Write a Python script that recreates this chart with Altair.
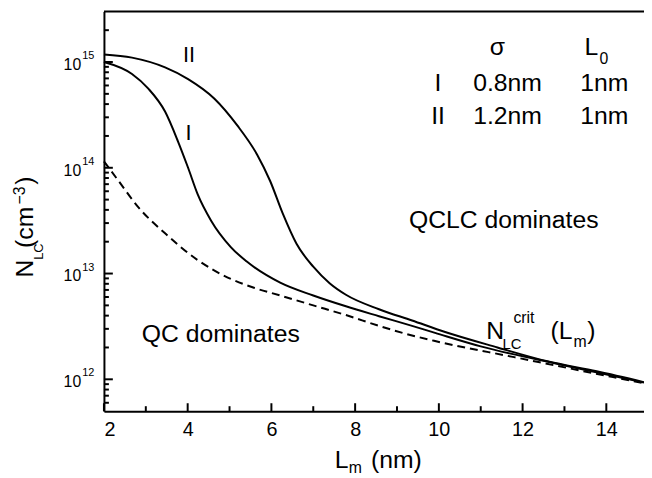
import altair as alt
import pandas as pd

FONT = "Liberation Sans, Arial, Helvetica, sans-serif"

L_I = [2.0, 2.67, 3.06, 3.46, 3.77, 4.01, 4.24, 4.56, 5.03, 5.42, 6.21, 7.0, 7.78, 8.57, 9.36, 9.91, 11.0, 12.98, 14.9]
N_I = [1.0e15, 7.7e14, 5.6e14, 3.4e14, 1.77e14, 1.0e14, 5.6e13, 3.16e13, 1.78e13, 1.29e13, 8.2e12, 6.2e12,
       4.9e12, 3.95e12, 3.2e12, 2.75e12, 2.05e12, 1.36e12, 9.3e11]
L_II = [2.0, 2.67, 3.46, 4.01, 4.64, 5.19, 5.66, 5.97, 6.27, 6.6, 7.0, 7.39, 7.78, 8.57, 9.36, 10.15, 11.4, 12.59, 13.77, 14.9]
N_II = [1.18e15, 1.10e15, 8.9e14, 6.9e14, 4.5e14, 2.5e14, 1.33e14, 7.5e13, 3.7e13, 1.91e13, 1.16e13, 8.1e12,
        6.3e12, 4.6e12, 3.6e12, 2.8e12, 2.0e12, 1.48e12, 1.19e12, 9.4e11]
L_crit = [2.0, 2.35, 2.83, 3.46, 4.24, 5.03, 5.6, 6.21, 7.0, 7.78, 8.57, 9.2, 9.91, 11.8, 14.16, 14.9]
N_crit = [1.15e14, 7.5e13, 4.2e13, 2.4e13, 1.34e13, 8.9e12, 7.3e12, 6.2e12, 5.0e12, 4.05e12, 3.2e12, 2.7e12,
          2.3e12, 1.62e12, 1.05e12, 9.2e11]

x_major = [2, 4, 6, 8, 10, 12, 14]
x_minor = [3, 5, 7, 9, 11, 13]
y_major = [1e12, 1e13, 1e14, 1e15]
y_exponents = ["12", "13", "14", "15"]
y_minor = ([6e11, 7e11, 8e11, 9e11]
           + [2e12, 3e12, 4e12, 5e12, 6e12, 7e12, 8e12, 9e12]
           + [2e13, 3e13, 4e13, 5e13, 6e13, 7e13, 8e13, 9e13]
           + [2e14, 3e14, 4e14, 5e14, 6e14, 7e14, 8e14, 9e14]
           + [2e15])

curve_labels = ["II", "I"]
curve_label_x = [4.03, 4.02]
curve_label_y = [9.9e14, 1.85e14]

big_center_text = ["QC dominates", "QCLC dominates", "σ", "I", "II", "0.8nm", "1.2nm", "1nm", "1nm"]
big_center_x = [4.79, 11.55, 11.40, 9.98, 9.98, 11.64, 11.64, 13.95, 13.95]
big_center_y = [2.23e12, 2.7e13, 1.175e15, 5.27e14, 2.62e14, 5.27e14, 2.62e14, 5.27e14, 2.62e14]

big_left_text = ["L", "N", "(L", ")"]
big_left_x = [13.476, 11.13, 12.665, 13.545]
big_left_y = [1.175e15, 2.39e12, 2.39e12, 2.39e12]

small_left_text = ["0", "LC", "crit", "m"]
small_left_x = [13.84, 11.52, 11.78, 13.216]
small_left_y = [9.48e14, 1.93e12, 3.4e12, 2.0e12]
small_left_size = [16, 15, 16, 16]

W, H = 546, 404
X_LO, X_HI = 2, 14.9
Y_LO, Y_HI = 5e11, 3e15
xs = alt.Scale(domain=[X_LO, X_HI], nice=False, zero=False)
ys = alt.Scale(type="log", domain=[Y_LO, Y_HI], nice=False)
x_axis = alt.Axis(values=x_major, format="d", title=None, grid=False, ticks=False,
                  labelFontSize=20, labelFont=FONT, labelColor="black", labelPadding=9,
                  domain=True, domainColor="black", domainWidth=2)
y_axis = alt.Axis(title=None, grid=False, labels=False, ticks=False,
                  domain=True, domainColor="black", domainWidth=2)


def X(f):
    return alt.X(f, type="quantitative", scale=xs, axis=x_axis)


def Y(f):
    return alt.Y(f, type="quantitative", scale=ys, axis=y_axis)


# inward tick marks (length in px: x 8/5, y 9/5)
px_per_decade = H / 3.778
px_per_nm = W / (X_HI - X_LO)
xt_rows = []
for v in x_major:
    xt_rows.append({"tv": float(v), "a": Y_LO, "b": Y_LO * 10 ** (8 / px_per_decade)})
for v in x_minor:
    xt_rows.append({"tv": float(v), "a": Y_LO, "b": Y_LO * 10 ** (5 / px_per_decade)})
yt_rows = []
for v in y_major:
    yt_rows.append({"tv": v, "a": float(X_LO), "b": X_LO + 9 / px_per_nm})
for v in y_minor:
    yt_rows.append({"tv": v, "a": float(X_LO), "b": X_LO + 5 / px_per_nm})

curves = pd.concat([
    pd.DataFrame({"L": L_I, "N": N_I, "s": "I"}),
    pd.DataFrame({"L": L_II, "N": N_II, "s": "II"}),
], ignore_index=True)
crit = pd.DataFrame({"L": L_crit, "N": N_crit})

solid = alt.Chart(curves).mark_line(color="black", strokeWidth=2, interpolate="monotone").encode(
    x=X("L"), y=Y("N"), detail="s:N")
dashed = alt.Chart(crit).mark_line(color="black", strokeWidth=2, strokeDash=[8, 5], interpolate="monotone").encode(
    x=X("L"), y=Y("N"))
xticks = alt.Chart(pd.DataFrame(xt_rows)).mark_rule(color="black", strokeWidth=2).encode(
    x=X("tv"), y=Y("a"), y2=alt.Y2("b"))
yticks = alt.Chart(pd.DataFrame(yt_rows)).mark_rule(color="black", strokeWidth=2).encode(
    y=Y("tv"), x=X("a"), x2=alt.X2("b"))

top = alt.Chart(pd.DataFrame({"a": [0]})).mark_rule(color="black", strokeWidth=2).encode(
    x=alt.value(0), x2=alt.value(W + 2), y=alt.value(0))

ylab = pd.DataFrame({"v": y_major, "e": y_exponents})
ylab10 = alt.Chart(ylab).mark_text(font=FONT, fontSize=16, align="right", baseline="alphabetic", dy=8,
                                   color="black").encode(y=Y("v"), x=alt.value(-23), text=alt.value("10"))
ylabE = alt.Chart(ylab).mark_text(font=FONT, fontSize=11, align="left", baseline="alphabetic", dy=-3,
                                  color="black").encode(y=Y("v"), x=alt.value(-22), text="e:N")

t1 = alt.Chart(pd.DataFrame({"x": curve_label_x, "y": curve_label_y, "t": curve_labels})).mark_text(
    font=FONT, fontSize=22, align="center", baseline="alphabetic", color="black").encode(
    x=X("x"), y=Y("y"), text="t:N")
t2 = alt.Chart(pd.DataFrame({"x": big_center_x, "y": big_center_y, "t": big_center_text})).mark_text(
    font=FONT, fontSize=25, align="center", baseline="alphabetic", color="black").encode(
    x=X("x"), y=Y("y"), text="t:N")
t3 = alt.Chart(pd.DataFrame({"x": big_left_x, "y": big_left_y, "t": big_left_text})).mark_text(
    font=FONT, fontSize=25, align="left", baseline="alphabetic", color="black").encode(
    x=X("x"), y=Y("y"), text="t:N")
t4 = alt.Chart(pd.DataFrame({"x": small_left_x, "y": small_left_y, "t": small_left_text,
                             "fs": small_left_size})).mark_text(
    font=FONT, align="left", baseline="alphabetic", color="black").encode(
    x=X("x"), y=Y("y"), text="t:N", size=alt.Size("fs:Q", scale=None, legend=None))


def piece(txt, px, py, size, angle=0):
    mk = dict(font=FONT, fontSize=size, align="left", baseline="alphabetic", color="black")
    if angle:
        mk["angle"] = angle
    return alt.Chart(pd.DataFrame({"a": [0]})).mark_text(**mk).encode(
        x=alt.value(px), y=alt.value(py), text=alt.value(txt))


xt = [piece("L", 233.3, 461, 25), piece("m", 247.5, 467, 16), piece("(nm)", 270, 461, 25)]
yt = [piece("N", -72, 269, 25, 270), piece("LC", -62, 251, 13, 270), piece("(cm", -72, 239, 25, 270),
      piece("−3", -80, 195, 16, 270), piece(")", -72, 175, 25, 270)]

chart = alt.layer(solid, dashed, xticks, yticks, top, ylab10, ylabE,
                  t1, t2, t3, t4, *xt, *yt).properties(
    width=W, height=H, padding={"left": 97, "top": 1, "right": 0, "bottom": 65},
    autosize=alt.AutoSizeParams(type="none"),
).configure_view(stroke=None)

chart.save("out.html", embed_options={"renderer": "svg", "actions": False})
